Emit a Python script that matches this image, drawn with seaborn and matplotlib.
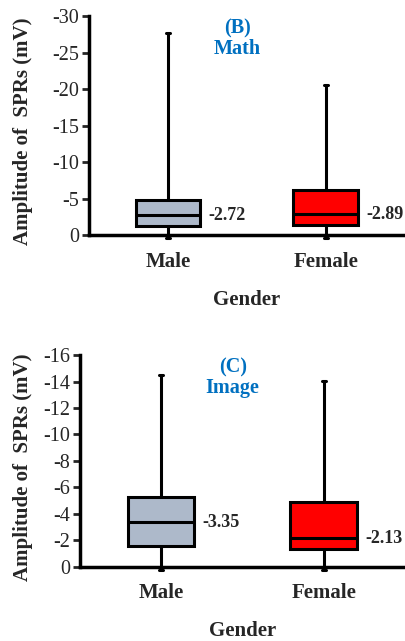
import pandas as pd
import numpy as np
import matplotlib.pyplot as plt
import seaborn as sns

# data (amplitude in mV, five-number summaries)
genders = ["Male", "Female"]
box_colors = ["#ADB9CA", "#FF0000"]

math_min = [0.4, 0.4]
math_q1 = [-1.3, -1.4]
math_med = [-2.72, -2.89]
math_q3 = [-4.8, -6.25]
math_max = [-27.7, -20.6]

image_min = [0.25, 0.25]
image_q1 = [-1.55, -1.35]
image_med = [-3.35, -2.13]
image_q3 = [-5.3, -4.87]
image_max = [-14.5, -14.05]

math_ticks = [0, -5, -10, -15, -20, -25, -30]
image_ticks = [0, -2, -4, -6, -8, -10, -12, -14, -16]

sns.set_theme(style="white")
plt.rcParams["font.family"] = ["Liberation Serif", "DejaVu Serif"]

fig = plt.figure(figsize=(4.06, 6.41), dpi=100)
ax1 = fig.add_axes([0.219, 0.633, 0.778, 0.342])
ax2 = fig.add_axes([0.197, 0.116, 0.800, 0.330])


def draw_panel(ax, mins, q1s, meds, q3s, maxs, ticks, title, ylab_x, ylab_y):
    # five points give exact quartiles with whiskers at the full range
    rows = []
    for i, g in enumerate(genders):
        for v in [mins[i], q1s[i], meds[i], q3s[i], maxs[i]]:
            rows.append({"Gender": g, "Amp": v})
    df = pd.DataFrame(rows)
    sns.boxplot(data=df, x="Gender", y="Amp", order=genders, hue="Gender",
                hue_order=genders, palette=box_colors, legend=False, ax=ax,
                width=0.41, whis=(0, 100), saturation=1, linecolor="black",
                linewidth=2.2, capwidths=0.025, dodge=False,
                whiskerprops=dict(clip_on=False),
                capprops=dict(clip_on=False))
    for i in range(len(genders)):
        ax.text(i + 0.205 + 0.05, meds[i], f"{meds[i]:.2f}",
                ha="left", va="center", fontsize=13, fontweight="bold")

    ax.set_xlim(-0.5, 1.5)
    ax.set_ylim(0, ticks[-1])
    ax.set_yticks(ticks)
    ax.set_yticklabels([str(t) for t in ticks], fontsize=14.5)
    ax.tick_params(axis="y", direction="out", length=5, width=2, pad=2, left=True)
    ax.tick_params(axis="x", length=0, pad=12)
    for lab in ax.get_xticklabels():
        lab.set_fontsize(15)
        lab.set_fontweight("bold")
    for s in ["top", "right"]:
        ax.spines[s].set_visible(False)
    for s in ["left", "bottom"]:
        ax.spines[s].set_color("black")
        ax.spines[s].set_linewidth(2.5)
    ax.set_xlabel("Gender", fontsize=15, fontweight="bold", labelpad=13)
    ax.set_ylabel("Amplitude of  SPRs (mV)", fontsize=15, fontweight="bold")
    ax.yaxis.set_label_coords(ylab_x, ylab_y)
    ax.text(0.47, 0.99, title, transform=ax.transAxes, ha="center", va="top",
            fontsize=14.5, fontweight="bold", color="#0070C0", linespacing=1.05)


draw_panel(ax1, math_min, math_q1, math_med, math_q3, math_max,
           math_ticks, "(B)\nMath", -0.177, 0.475)
draw_panel(ax2, image_min, image_q1, image_med, image_q3, image_max,
           image_ticks, "(C)\nImage", -0.145, 0.469)

fig.savefig("out.png", dpi=100)
